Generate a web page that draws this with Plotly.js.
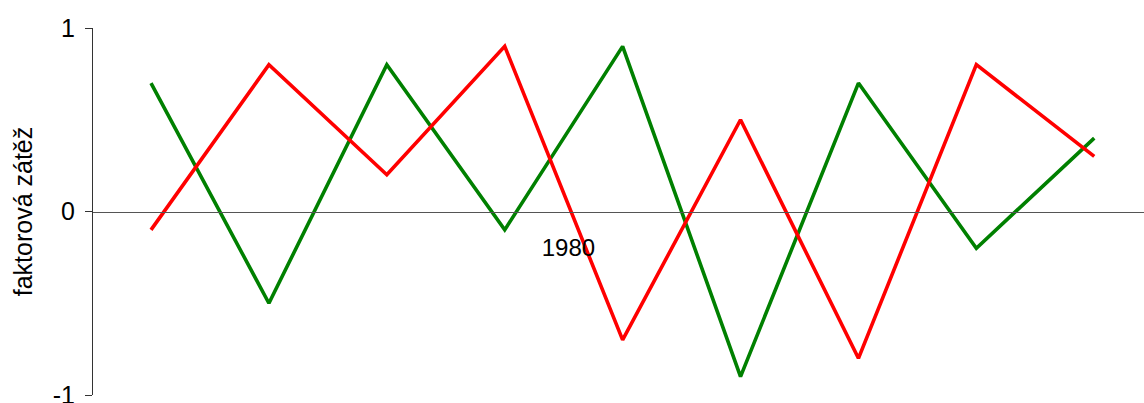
<!DOCTYPE html>
<html>
<head>
<meta charset="utf-8">
<script src="https://cdn.plot.ly/plotly-3.0.1.min.js"></script>
<style>html,body{margin:0;padding:0;background:#fff;}#chart{width:1144px;height:403px;}</style>
</head>
<body>
<div id="chart"></div>
<script>
var xIndex = [1, 2, 3, 4, 5, 6, 7, 8, 9];
var greenValues = [0.7, -0.5, 0.8, -0.1, 0.9, -0.9, 0.7, -0.2, 0.4];
var redValues = [-0.1, 0.8, 0.2, 0.9, -0.7, 0.5, -0.8, 0.8, 0.3];
var xTickVals = [4.54];
var xTickText = ['1980'];
var yTickVals = [-1, 0, 1];
var yTickText = ['-1', '0', '1'];
var yTitle = 'faktorová zátěž';

var traces = [
  {x: xIndex, y: greenValues, mode: 'lines', line: {color: '#008000', width: 3.6}, hoverinfo: 'skip'},
  {x: xIndex, y: redValues, mode: 'lines', line: {color: '#ff0000', width: 3.6}, hoverinfo: 'skip'}
];

var layout = {
  width: 1144, height: 403,
  margin: {l: 93, r: 0, t: 28, b: 8, pad: 0},
  paper_bgcolor: '#fff', plot_bgcolor: '#fff',
  showlegend: false,
  font: {family: 'Liberation Sans, Arial, sans-serif', size: 24, color: '#000'},
  xaxis: {
    range: [0.508, 9.422],
    anchor: 'free', position: 0.5,
    showline: true, linecolor: '#555', linewidth: 1.2,
    showgrid: false, zeroline: false,
    ticks: '', tickvals: xTickVals, ticktext: xTickText,
    tickfont: {size: 24, color: '#000'},
    ticklabelstandoff: 14
  },
  yaxis: {
    range: [-1, 1],
    showline: true, linecolor: '#333', linewidth: 1,
    showgrid: false, zeroline: false,
    ticks: 'outside', ticklen: 7, tickcolor: '#333', tickwidth: 1,
    tickvals: yTickVals, ticktext: yTickText,
    tickfont: {size: 25, color: '#000'},
    ticklabelstandoff: 5,
    ticklabeloverflow: 'allow',
    title: {text: yTitle, font: {size: 25, color: '#000'}, standoff: 13}
  }
};

Plotly.newPlot('chart', traces, layout, {staticPlot: true, displayModeBar: false});
</script>
</body>
</html>
